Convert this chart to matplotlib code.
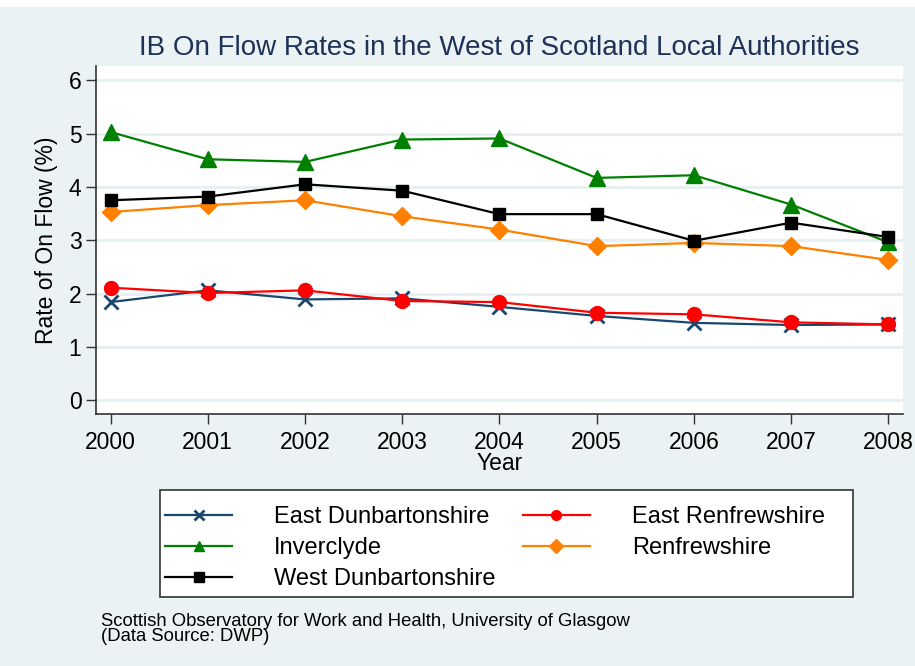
import numpy as np
import matplotlib.pyplot as plt

plt.rcParams['font.family'] = ['Liberation Sans', 'DejaVu Sans']

years = [2000, 2001, 2002, 2003, 2004, 2005, 2006, 2007, 2008]
east_dunbarton = [1.84, 2.06, 1.89, 1.91, 1.75, 1.58, 1.45, 1.41, 1.42]
east_renfrew = [2.11, 2.01, 2.06, 1.86, 1.84, 1.64, 1.61, 1.46, 1.42]
inverclyde = [5.03, 4.52, 4.47, 4.89, 4.91, 4.17, 4.22, 3.67, 2.96]
renfrew = [3.53, 3.66, 3.75, 3.45, 3.20, 2.89, 2.95, 2.89, 2.63]
west_dunbarton = [3.75, 3.82, 4.05, 3.93, 3.49, 3.49, 2.99, 3.33, 3.06]

bg = '#EAF2F3'
fig = plt.figure(figsize=(9.15, 6.66), dpi=100, facecolor=bg)
# thin white strip at the very top, as in the source image
fig.patches.append(plt.Rectangle((0, 0.991), 1, 0.009, transform=fig.transFigure,
                                 color='white', zorder=0))
ax = fig.add_axes([0.1049, 0.3784, 0.882, 0.5225])
ax.set_facecolor('white')

l_ed, = ax.plot(years, east_dunbarton, color='#1A476F', lw=1.6, marker='x', ms=10, mew=2,
                label='East Dunbartonshire')
l_er, = ax.plot(years, east_renfrew, color='#FF0000', lw=1.6, marker='o', ms=10,
                label='East Renfrewshire')
l_in, = ax.plot(years, inverclyde, color='#008000', lw=1.6, marker='^', ms=11,
                label='Inverclyde')
l_rn, = ax.plot(years, renfrew, color='#FF8000', lw=1.6, marker='D', ms=9,
                label='Renfrewshire')
l_wd, = ax.plot(years, west_dunbarton, color='black', lw=1.6, marker='s', ms=9,
                label='West Dunbartonshire')

ax.set_xlim(1999.85, 2008.15)
ax.set_ylim(-0.26, 6.27)
ax.set_xticks(years)
ax.set_yticks(range(7))
ax.grid(axis='y', color='#E6EFF1', lw=2)
ax.set_axisbelow(True)
for s in ['top', 'right']:
    ax.spines[s].set_visible(False)
for s in ['left', 'bottom']:
    ax.spines[s].set_color('#333333')
    ax.spines[s].set_linewidth(1.2)
ax.tick_params(length=7, width=1, color='#333333', labelsize=16.5)
ax.tick_params(axis='x', pad=5)

ax.set_xlabel('Year', fontsize=16.5, labelpad=-1)
ax.set_ylabel('Rate of On Flow (%)', fontsize=16.5, labelpad=8)
ax.set_title('IB On Flow Rates in the West of Scotland Local Authorities',
             fontsize=20, color='#1E3259', pad=8)

# legend box drawn separately so its size matches the reference
fig.patches.append(plt.Rectangle((0.1749, 0.1036), 0.7573, 0.1607, transform=fig.transFigure,
                                 facecolor='white', edgecolor='#333333', lw=1.2, zorder=1))

# row-wise legend order like the reference (matplotlib fills by column)
handles = [l_ed, l_in, l_wd, l_er, l_rn]
leg = fig.legend(handles=handles, labels=[h.get_label() for h in handles],
                 loc='upper left', bbox_to_anchor=(0.1803, 0.2402),
                 ncol=2, fontsize=17, frameon=False, handlelength=2.84,
                 labelspacing=0.38, borderpad=0, columnspacing=1.15,
                 handletextpad=1.78, borderaxespad=0)
for h in leg.legend_handles:
    h.set_markersize(7)

fig.text(0.110, 0.031, 'Scottish Observatory for Work and Health, University of Glasgow\n(Data Source: DWP)',
         fontsize=13.3, va='bottom', ha='left', linespacing=0.9)

fig.savefig('out.png', dpi=100, facecolor=bg)
